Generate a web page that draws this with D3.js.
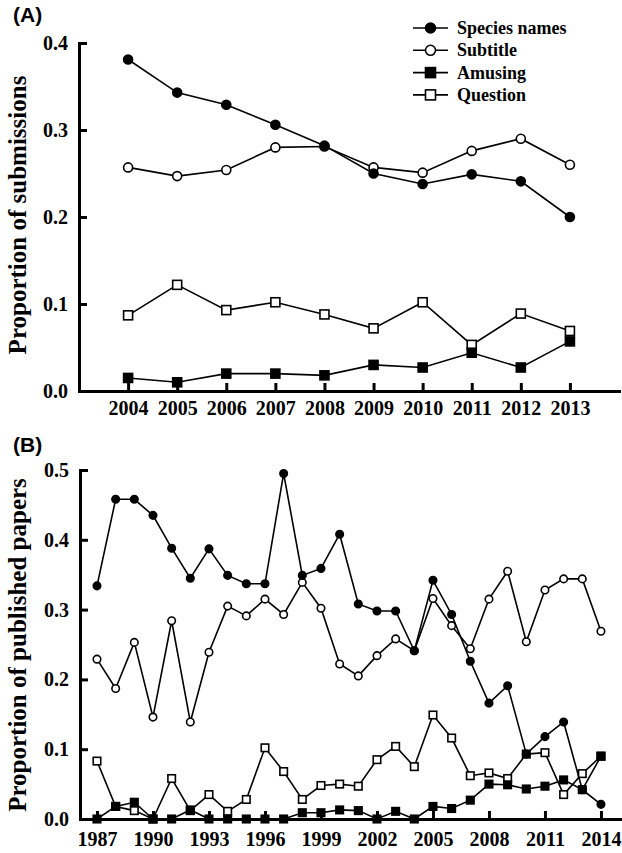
<!DOCTYPE html>
<html>
<head>
<meta charset="utf-8">
<script src="https://cdn.jsdelivr.net/npm/d3@7/dist/d3.min.js"></script>
<style>
  html, body { margin: 0; padding: 0; background: #fff; }
  svg { display: block; }
  .axis .domain { stroke: #000; stroke-width: 3; stroke-linecap: square; }
  .axis .tick line { stroke: #000; stroke-width: 3; }
</style>
</head>
<body>
<div id="chart"></div>
<script>
// ---- Panel A: submissions ----
const yearsA = [2004, 2005, 2006, 2007, 2008, 2009, 2010, 2011, 2012, 2013];
const speciesA = [0.381, 0.343, 0.329, 0.306, 0.282, 0.250, 0.238, 0.249, 0.241, 0.200];
const subtitleA = [0.257, 0.247, 0.254, 0.280, 0.281, 0.257, 0.251, 0.276, 0.290, 0.260];
const amusingA = [0.015, 0.010, 0.020, 0.020, 0.018, 0.030, 0.027, 0.044, 0.027, 0.057];
const questionA = [0.087, 0.122, 0.093, 0.102, 0.088, 0.072, 0.102, 0.053, 0.089, 0.069];
const yTicksA = [0.0, 0.1, 0.2, 0.3, 0.4];
const xTicksA = yearsA;

// ---- Panel B: published papers ----
const yearsB = [1987, 1988, 1989, 1990, 1991, 1992, 1993, 1994, 1995, 1996, 1997, 1998, 1999, 2000,
  2001, 2002, 2003, 2004, 2005, 2006, 2007, 2008, 2009, 2010, 2011, 2012, 2013, 2014];
const speciesB = [0.334, 0.458, 0.458, 0.435, 0.388, 0.345, 0.387, 0.349, 0.337, 0.337, 0.495, 0.349, 0.359, 0.408,
  0.308, 0.298, 0.298, 0.241, 0.342, 0.293, 0.226, 0.166, 0.191, 0.093, 0.118, 0.139, 0.042, 0.021];
const subtitleB = [0.229, 0.187, 0.253, 0.146, 0.284, 0.139, 0.239, 0.305, 0.291, 0.315, 0.293, 0.339, 0.302, 0.222,
  0.205, 0.234, 0.258, 0.241, 0.316, 0.277, 0.244, 0.315, 0.355, 0.254, 0.328, 0.344, 0.344, 0.269];
const amusingB = [0.000, 0.018, 0.024, 0.000, 0.000, 0.013, 0.000, 0.000, 0.000, 0.000, 0.000, 0.009, 0.009, 0.013,
  0.012, 0.000, 0.011, 0.000, 0.018, 0.015, 0.027, 0.050, 0.049, 0.043, 0.047, 0.056, 0.042, 0.090];
const questionB = [0.083, 0.018, 0.012, 0.000, 0.058, 0.012, 0.035, 0.011, 0.028, 0.102, 0.068, 0.028, 0.048, 0.050,
  0.047, 0.085, 0.104, 0.075, 0.149, 0.116, 0.062, 0.066, 0.058, 0.093, 0.095, 0.035, 0.065, 0.090];
const yTicksB = [0.0, 0.1, 0.2, 0.3, 0.4, 0.5];
const xTicksB = [1987, 1990, 1993, 1996, 1999, 2002, 2005, 2008, 2011, 2014];

const seriesNames = ['Species names', 'Subtitle', 'Amusing', 'Question'];
// marker style per series: shape + filled
const markerStyle = {
  'Species names': { shape: 'circle', filled: true },
  'Subtitle': { shape: 'circle', filled: false },
  'Amusing': { shape: 'square', filled: true },
  'Question': { shape: 'square', filled: false },
};

const serif = '"Liberation Serif", "Times New Roman", serif';
const sans = '"Liberation Sans", Arial, sans-serif';

const svg = d3.select('#chart')
  .append('svg')
  .attr('width', 622)
  .attr('height', 853);

function drawMarker(g, cx, cy, name, size) {
  const st = markerStyle[name];
  const fill = st.filled ? '#000' : '#fff';
  if (st.shape === 'circle') {
    g.append('circle')
      .attr('cx', cx).attr('cy', cy).attr('r', size / 2)
      .attr('fill', fill).attr('stroke', '#000').attr('stroke-width', 1.6);
  } else {
    g.append('rect')
      .attr('x', cx - size / 2).attr('y', cy - size / 2)
      .attr('width', size).attr('height', size)
      .attr('fill', fill).attr('stroke', '#000').attr('stroke-width', 1.6);
  }
}

function styleTicks(sel) {
  sel.selectAll('.tick text')
    .style('font-family', serif)
    .style('font-weight', 'bold')
    .style('font-size', '20px')
    .attr('fill', '#000');
}

function drawPanel(p) {
  const x = d3.scaleLinear().domain(p.xDomain).range(p.xRange);
  const y = d3.scaleLinear().domain(p.yDomain).range(p.yRange);
  const g = svg.append('g');

  const line = d3.line()
    .x((d) => x(d.year))
    .y((d) => y(d.value));

  // draw in reverse so species ends on top
  p.series.slice().reverse().forEach((s) => {
    const pts = p.years.map((yr, i) => ({ year: yr, value: s.values[i] }));
    g.append('path')
      .datum(pts)
      .attr('d', line)
      .attr('fill', 'none')
      .attr('stroke', '#000')
      .attr('stroke-width', 1.6);
    pts.forEach((d) => drawMarker(g, x(d.year), y(d.value), s.name, p.markerSize));
  });

  // Axes
  g.append('g')
    .attr('class', 'axis')
    .attr('transform', `translate(0,${p.yRange[0]})`)
    .call(
      d3.axisBottom(x)
        .tickValues(p.xTicks)
        .tickFormat(d3.format('d'))
        .tickSizeInner(-8)
        .tickSizeOuter(0)
        .tickPadding(p.xPad),
    )
    .call(styleTicks);

  g.append('g')
    .attr('class', 'axis')
    .attr('transform', `translate(${p.xRange[0]},0)`)
    .call(
      d3.axisLeft(y)
        .tickValues(p.yTicks)
        .tickFormat(d3.format('.1f'))
        .tickSizeInner(-8)
        .tickSizeOuter(0)
        .tickPadding(11),
    )
    .call(styleTicks);

  // Panel letter
  svg.append('text')
    .attr('x', 13)
    .attr('y', p.letterY)
    .attr('font-family', sans)
    .attr('font-weight', 'bold')
    .attr('font-size', '21px')
    .text(p.letter);

  // Y label
  svg.append('text')
    .attr('transform', `translate(26,${p.yLabelY}) rotate(-90)`)
    .attr('text-anchor', 'middle')
    .attr('font-family', serif)
    .attr('font-weight', 'bold')
    .attr('font-size', '25px')
    .text(p.yLabel);
}

drawPanel({
  years: yearsA,
  series: [
    { name: 'Species names', values: speciesA },
    { name: 'Subtitle', values: subtitleA },
    { name: 'Amusing', values: amusingA },
    { name: 'Question', values: questionA },
  ],
  xDomain: [2003, 2014],
  xRange: [79, 619],
  yDomain: [0, 0.4],
  yRange: [391, 43],
  xTicks: xTicksA,
  yTicks: yTicksA,
  xPad: 10,
  markerSize: 9,
  letter: '(A)',
  letterY: 22,
  yLabel: 'Proportion of submissions',
  yLabelY: 215,
});

drawPanel({
  years: yearsB,
  series: [
    { name: 'Species names', values: speciesB },
    { name: 'Subtitle', values: subtitleB },
    { name: 'Amusing', values: amusingB },
    { name: 'Question', values: questionB },
  ],
  xDomain: [1986.09, 2015.02],
  xRange: [80, 620],
  yDomain: [0, 0.5],
  yRange: [819, 470],
  xTicks: xTicksB,
  yTicks: yTicksB,
  xPad: 13,
  markerSize: 7.5,
  letter: '(B)',
  letterY: 452,
  yLabel: 'Proportion of published papers',
  yLabelY: 645,
});

// Legend (panel A)
const legend = svg.append('g').attr('transform', 'translate(413,28)');
seriesNames.forEach((name, i) => {
  const row = legend.append('g').attr('transform', `translate(0,${i * 22.3})`);
  row.append('line')
    .attr('x1', 0).attr('x2', 35)
    .attr('y1', 0).attr('y2', 0)
    .attr('stroke', '#000').attr('stroke-width', 1.6);
  drawMarker(row, 17.5, 0, name, 10);
  row.append('text')
    .attr('x', 44)
    .attr('y', 6)
    .attr('font-family', serif)
    .attr('font-weight', 'bold')
    .attr('font-size', '18px')
    .text(name);
});
</script>
</body>
</html>
